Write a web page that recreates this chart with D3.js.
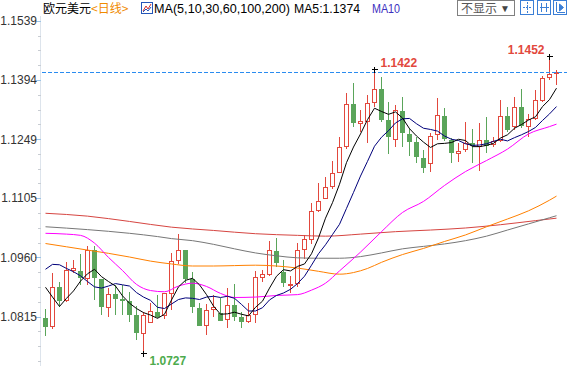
<!DOCTYPE html>
<html><head><meta charset="utf-8">
<script src="https://cdn.jsdelivr.net/npm/d3@7"></script>
<style>
html,body{margin:0;padding:0;background:#fff;overflow:hidden;}
svg{display:block;}
</style></head><body>
<svg id="c" width="567" height="366"></svg>
<script>
// ---- data (EUR/USD daily) ----
const open = [1.0812,1.0791,1.0887,1.0854,1.0928,1.0927,1.0909,1.0977,1.0907,1.0838,
1.0870,1.0858,1.0854,1.0819,1.0774,1.0801,1.0827,1.0819,1.0872,1.0952,
1.0978,1.0906,1.0837,1.0793,1.0833,1.0823,1.0807,1.0844,1.0814,1.0803,
1.0821,1.0911,1.0919,1.0976,1.0924,1.0892,1.0897,1.0980,1.1004,1.1074,
1.1105,1.1133,1.1168,1.1231,1.1335,1.1288,1.1292,1.1338,1.1371,1.1296,
1.1249,1.1319,1.1262,1.1242,1.1203,1.1190,1.1261,1.1306,1.1247,1.1215,
1.1223,1.1239,1.1231,1.1247,1.1237,1.1247,1.1306,1.1280,1.1329,1.1281,
1.1300,1.1345,1.1400,1.1410];
const high = [1.0834,1.0923,1.0899,1.0950,1.0954,1.0968,1.0988,1.0988,1.0907,1.0885,
1.0893,1.0893,1.0876,1.0840,1.0827,1.0849,1.0868,1.0872,1.0972,1.1017,
1.0978,1.0924,1.0848,1.0846,1.0867,1.0860,1.0886,1.0894,1.0827,1.0849,
1.0927,1.0930,1.0999,1.1007,1.0954,1.0915,1.0995,1.1015,1.1092,1.1141,
1.1156,1.1196,1.1254,1.1361,1.1386,1.1321,1.1357,1.1422,1.1402,1.1341,
1.1333,1.1352,1.1276,1.1254,1.1223,1.1265,1.1349,1.1325,1.1251,1.1241,
1.1292,1.1273,1.1288,1.1303,1.1254,1.1345,1.1329,1.1352,1.1371,1.1311,
1.1370,1.1404,1.1452,1.1418];
const low = [1.0768,1.0784,1.0838,1.0852,1.0921,1.0893,1.0893,1.0856,1.0819,1.0814,
1.0819,1.0819,1.0803,1.0758,1.0727,1.0800,1.0811,1.0809,1.0831,1.0944,
1.0898,1.0825,1.0793,1.0770,1.0815,1.0805,1.0787,1.0805,1.0787,1.0799,
1.0800,1.0900,1.0915,1.0937,1.0887,1.0874,1.0888,1.0955,1.0993,1.1072,
1.1102,1.1127,1.1166,1.1224,1.1278,1.1268,1.1241,1.1327,1.1292,1.1213,
1.1229,1.1229,1.1208,1.1190,1.1167,1.1170,1.1247,1.1246,1.1192,1.1194,
1.1219,1.1190,1.1172,1.1215,1.1231,1.1243,1.1268,1.1272,1.1276,1.1255,
1.1296,1.1341,1.1394,1.1382];
const close = [1.0790,1.0887,1.0854,1.0927,1.0933,1.0910,1.0977,1.0909,1.0838,1.0870,
1.0858,1.0854,1.0819,1.0774,1.0819,1.0827,1.0814,1.0872,1.0950,1.0978,
1.0906,1.0838,1.0793,1.0831,1.0837,1.0805,1.0843,1.0815,1.0803,1.0817,
1.0910,1.0919,1.0976,1.0947,1.0898,1.0894,1.0977,1.1003,1.1072,1.1096,
1.1132,1.1166,1.1229,1.1335,1.1290,1.1292,1.1337,1.1371,1.1296,1.1255,
1.1319,1.1264,1.1243,1.1205,1.1178,1.1257,1.1306,1.1249,1.1216,1.1218,
1.1239,1.1233,1.1247,1.1233,1.1243,1.1304,1.1272,1.1327,1.1281,1.1298,
1.1343,1.1398,1.1408,1.1413];

const ma5 = [1.0887,1.0863,1.0840,1.0860,1.0878,1.0902,1.0920,1.0931,1.0913,1.0901,
1.0890,1.0866,1.0848,1.0835,1.0825,1.0819,1.0811,1.0821,1.0856,1.0888,
1.0904,1.0909,1.0893,1.0869,1.0841,1.0821,1.0822,1.0826,1.0821,1.0817,
1.0838,1.0853,1.0885,1.0914,1.0930,1.0927,1.0938,1.0944,1.0969,1.1008,
1.1056,1.1094,1.1139,1.1192,1.1230,1.1262,1.1297,1.1325,1.1317,1.1310,
1.1316,1.1301,1.1275,1.1257,1.1242,1.1229,1.1238,1.1239,1.1241,1.1249,
1.1246,1.1231,1.1231,1.1234,1.1239,1.1252,1.1260,1.1276,1.1285,1.1296,
1.1304,1.1329,1.1346,1.1374];
const ma10 = [1.0931,1.0943,1.0942,1.0933,1.0925,1.0915,1.0901,1.0888,1.0885,1.0890,
1.0896,1.0893,1.0890,1.0874,1.0863,1.0855,1.0838,1.0835,1.0846,1.0857,
1.0861,1.0860,1.0857,1.0863,1.0865,1.0862,1.0865,1.0860,1.0845,1.0829,
1.0829,1.0837,1.0856,1.0867,1.0873,1.0882,1.0896,1.0914,1.0941,1.0969,
1.0991,1.1016,1.1041,1.1080,1.1119,1.1159,1.1195,1.1232,1.1254,1.1270,
1.1289,1.1299,1.1300,1.1287,1.1276,1.1273,1.1269,1.1257,1.1249,1.1246,
1.1238,1.1234,1.1235,1.1238,1.1244,1.1249,1.1245,1.1253,1.1260,1.1268,
1.1278,1.1295,1.1311,1.1329];
// [candle index, value]
const ma30 = [[0,1.1019],[3,1.1017],[5,1.1014],[7,1.0995],[9,1.0960],[11,1.0928],[13,1.0894],
[15,1.0879],[17,1.0876],[19,1.0890],[21,1.0897],[23,1.0889],[25,1.0872],[27,1.0862],[30,1.0863],
[33,1.0867],[36,1.0869],[38,1.0880],[40,1.0897],[42,1.0927],[45,1.0973],[48,1.1023],[51,1.1070],
[54,1.1097],[57,1.1136],[60,1.1170],[63,1.1197],[66,1.1225],[69,1.1262],[72,1.1280],[73,1.1286]];
const ma60 = [[0,1.0994],[3,1.0986],[6,1.0978],[9,1.0970],[12,1.0961],[15,1.0951],[18,1.0944],
[21,1.0939],[24,1.0939],[27,1.0940],[30,1.0941],[33,1.0939],[36,1.0934],[39,1.0926],[42,1.0919],
[44,1.0923],[46,1.0933],[48,1.0948],[51,1.0967],[54,1.0982],[57,1.0999],[60,1.1015],[63,1.1035],
[66,1.1054],[69,1.1074],[72,1.1100],[73,1.1110]];
const ma100 = [[0,1.1035],[6,1.1028],[12,1.1019],[16,1.1011],[18,1.1006],[21,1.1001],[24,1.0992],
[27,1.0981],[30,1.0971],[33,1.0964],[36,1.0959],[39,1.0958],[42,1.0958],[45,1.0962],[48,1.0971],
[51,1.0981],[54,1.0987],[57,1.0993],[60,1.1001],[63,1.1012],[66,1.1027],[69,1.1042],[72,1.1057],[73,1.1062]];
const ma200 = [[0,1.1068],[6,1.1061],[12,1.1048],[18,1.1034],[24,1.1026],[30,1.1018],[36,1.1014],
[40,1.1012],[45,1.1017],[50,1.1023],[55,1.1027],[60,1.1032],[65,1.1040],[70,1.1050],[73,1.1056]];

const yTickLabels = ["1.1539","1.1394","1.1249","1.1105","1.0960","1.0815"];
const lastPrice = 1.1413;
const marks = [{i:47,v:1.1422,kind:"high"},{i:72,v:1.1452,kind:"high"},{i:14,v:1.0727,kind:"low"}];

// ---- drawing ----
const svg = d3.select("#c");
const x = d3.scaleLinear().domain([0, open.length-1]).range([45.5, 556.5]);
const y = d3.scaleLinear().domain([1.0815, 1.1394]).range([316.7, 80]);

const UP = "#e2483d", DOWN = "#5aa55a";
const sans = "'Liberation Sans', Arial, sans-serif";
const cjk = "'Noto Sans CJK SC', sans-serif";

// y axis
const tickVals = yTickLabels.map(Number);
const minor = [];
for (let k = 0; k < tickVals.length - 1; k++) {
  const a = tickVals[k], b = tickVals[k+1];
  for (let j = 1; j < 4; j++) minor.push(a + (b - a) * j / 4);
}
const step = (tickVals[0] - tickVals[tickVals.length-1]) / (tickVals.length - 1) / 4;
for (let j = 1; j <= 3; j++) minor.push(tickVals[tickVals.length-1] - step * j);

svg.append("line").attr("x1",40.5).attr("x2",40.5).attr("y1",16).attr("y2",366)
  .attr("stroke","#dde4ec").attr("stroke-width",1);

const gMinor = svg.append("g").attr("transform","translate(41,0)")
  .call(d3.axisLeft(y).tickValues(minor).tickSize(3).tickFormat(""));
gMinor.select(".domain").remove();
gMinor.selectAll(".tick line").attr("stroke","#c8ccd2").attr("shape-rendering","crispEdges");

const gAxis = svg.append("g").attr("transform","translate(41,0)")
  .call(d3.axisLeft(y).tickValues(tickVals).tickSize(6).tickPadding(-2).tickFormat((d,i)=>yTickLabels[i]));
gAxis.select(".domain").remove();
gAxis.selectAll(".tick line").attr("stroke","#9cc4e6").attr("shape-rendering","crispEdges");
gAxis.selectAll(".tick text").attr("fill","#333").attr("font-size","12px").attr("font-family",sans);

// candles
const idx = d3.range(open.length);
const gc = svg.append("g").attr("shape-rendering","crispEdges");
gc.selectAll("line.w").data(idx).join("line").attr("class","w")
  .attr("x1", i => x(i)).attr("x2", i => x(i))
  .attr("y1", i => y(high[i])).attr("y2", i => y(low[i]))
  .attr("stroke", i => close[i] >= open[i] ? UP : DOWN).attr("stroke-width",1);
gc.selectAll("rect.b").data(idx).join("rect").attr("class","b")
  .attr("x", i => close[i] >= open[i] ? x(i) - 2 : x(i) - 2.5)
  .attr("width", i => close[i] >= open[i] ? 4 : 5)
  .attr("y", i => y(Math.max(open[i], close[i])))
  .attr("height", i => Math.max(1, y(Math.min(open[i], close[i])) - y(Math.max(open[i], close[i]))))
  .attr("fill", i => close[i] >= open[i] ? "#fff" : DOWN)
  .attr("stroke", i => close[i] >= open[i] ? UP : "none");

// moving averages
const lineIdx = d3.line().x((v,i) => x(i)).y(v => y(v));
const linePair = d3.line().x(d => x(d[0])).y(d => y(d[1])).curve(d3.curveMonotoneX);
const gm = svg.append("g").attr("fill","none").attr("stroke-width",1);
gm.append("path").attr("d", linePair(ma200)).attr("stroke","#d64541");
gm.append("path").attr("d", linePair(ma100)).attr("stroke","#777");
gm.append("path").attr("d", linePair(ma60)).attr("stroke","#ff8000");
gm.append("path").attr("d", linePair(ma30)).attr("stroke","#ff00ff");
gm.append("path").attr("d", lineIdx(ma10)).attr("stroke","#00007a");
gm.append("path").attr("d", lineIdx(ma5)).attr("stroke","#000");

// last price dashed line
svg.append("line").attr("x1",42).attr("x2",567)
  .attr("y1", Math.round(y(lastPrice)) + 0.5).attr("y2", Math.round(y(lastPrice)) + 0.5)
  .attr("stroke","#2a8cf0").attr("stroke-dasharray","4,2").attr("stroke-width",1);

// high / low markers
marks.forEach(m => {
  const cx = x(m.i), cy = Math.round(y(m.v)) + 0.5;
  svg.append("line").attr("x1",cx-3).attr("x2",cx+3).attr("y1",cy).attr("y2",cy).attr("stroke","#000").attr("shape-rendering","crispEdges");
  svg.append("line").attr("x1",cx).attr("x2",cx).attr("y1",cy-3).attr("y2",cy+3).attr("stroke","#000").attr("shape-rendering","crispEdges");
  const t = svg.append("text").attr("font-family",sans).attr("font-size","12px").attr("font-weight","bold")
    .text(m.v.toFixed(4));
  if (m.i === 47) t.attr("x", cx + 6).attr("y", cy - 3).attr("fill", UP);
  else if (m.i === 72) t.attr("x", cx - 5).attr("y", cy - 2.5).attr("text-anchor","end").attr("fill", UP);
  else t.attr("x", cx + 6).attr("y", cy + 11).attr("fill", "#4dab4d");
});

// header
const hdr = svg.append("g");
hdr.append("text").attr("x",43).attr("y",13).attr("font-family",cjk).attr("font-size","12px").attr("fill","#000").text("欧元美元");
hdr.append("text").attr("x",91).attr("y",13).attr("font-family",cjk).attr("font-size","12px").attr("fill","#f08a00").text("<日线>");
hdr.append("rect").attr("x",141.5).attr("y",2.5).attr("width",11).attr("height",11).attr("fill","#fff").attr("stroke","#2456b8");
hdr.append("polyline").attr("points","143,11 146,6 148,9 151,4").attr("fill","none").attr("stroke","#d03030");
hdr.append("polyline").attr("points","143,12 146,9 148,11 151,7").attr("fill","none").attr("stroke","#2456b8");
hdr.append("text").attr("x",154).attr("y",13).attr("font-family",sans).attr("font-size","12.5px").attr("fill","#000")
  .attr("textLength",136).attr("lengthAdjust","spacingAndGlyphs").text("MA(5,10,30,60,100,200)");
hdr.append("text").attr("x",294).attr("y",13).attr("font-family",sans).attr("font-size","12.5px").attr("fill","#000")
  .attr("textLength",66).attr("lengthAdjust","spacingAndGlyphs").text("MA5:" + ma5[ma5.length-1].toFixed(4));
hdr.append("text").attr("x",372).attr("y",13).attr("font-family",sans).attr("font-size","12.5px").attr("fill","#3b2fc0")
  .attr("textLength",28).attr("lengthAdjust","spacingAndGlyphs").text("MA10");

// "不显示" button and tool icons
hdr.append("rect").attr("x",457.5).attr("y",0.5).attr("width",57).attr("height",15).attr("fill","#fff").attr("stroke","#808080");
hdr.append("text").attr("x",461).attr("y",12.5).attr("font-family",cjk).attr("font-size","12px").attr("fill","#555").text("不显示");
hdr.append("text").attr("x",500).attr("y",12).attr("font-family",sans).attr("font-size","10px").attr("fill","#444").text("▼");
[520.5, 537.5, 553.5].forEach((bx, k) => {
  hdr.append("rect").attr("x",bx).attr("y",0.5).attr("width",13).attr("height",14).attr("fill","#fff").attr("stroke","#3b7fd6");
  const g = hdr.append("g").attr("stroke","#3b7fd6").attr("fill","none").attr("shape-rendering","crispEdges");
  if (k === 0) {
    g.append("line").attr("x1",bx+2).attr("x2",bx+11).attr("y1",7.5).attr("y2",7.5).attr("stroke-dasharray","2,1");
    g.append("line").attr("x1",bx+6.5).attr("x2",bx+6.5).attr("y1",2).attr("y2",13).attr("stroke-dasharray","2,1");
  } else if (k === 1) {
    g.append("line").attr("x1",bx+4).attr("x2",bx+4).attr("y1",3).attr("y2",12);
    g.append("line").attr("x1",bx+9).attr("x2",bx+9).attr("y1",3).attr("y2",12);
    g.append("line").attr("x1",bx+2).attr("x2",bx+11).attr("y1",7.5).attr("y2",7.5);
  } else {
    g.append("line").attr("x1",bx+3).attr("x2",bx+3).attr("y1",2).attr("y2",12);
    g.append("line").attr("x1",bx+3).attr("x2",bx+11).attr("y1",12).attr("y2",12);
    g.append("path").attr("d",`M${bx+6},4 L${bx+10},7.5 L${bx+6},11 Z`).attr("fill","#3b7fd6").attr("shape-rendering","auto");
  }
});
</script>
</body></html>
